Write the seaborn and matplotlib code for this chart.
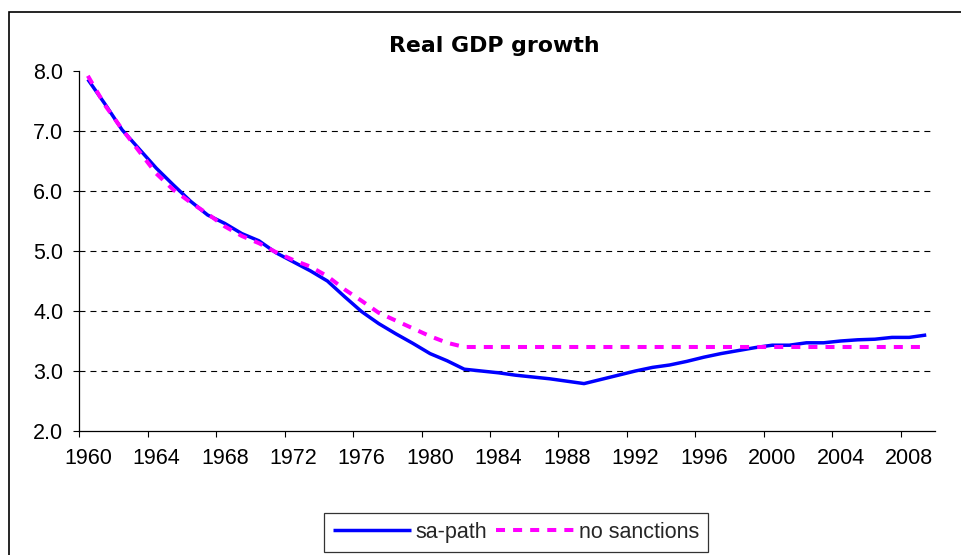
import matplotlib
matplotlib.use("Agg")
import matplotlib.pyplot as plt
from matplotlib.patches import Rectangle
from matplotlib.ticker import FixedLocator, FuncFormatter, NullFormatter
import seaborn as sns
import pandas as pd

# ---- data ----
years = list(range(1960, 2010))
sa_path = [7.86, 7.45, 7.02, 6.70, 6.38, 6.10, 5.83, 5.60, 5.46, 5.29,
           5.17, 4.97, 4.82, 4.67, 4.50, 4.24, 3.99, 3.79, 3.62, 3.46,
           3.29, 3.17, 3.03, 3.00, 2.97, 2.93, 2.90, 2.87, 2.83, 2.79,
           2.86, 2.93, 3.00, 3.06, 3.10, 3.16, 3.23, 3.29, 3.34, 3.39,
           3.43, 3.43, 3.47, 3.47, 3.50, 3.52, 3.53, 3.56, 3.56, 3.60]
no_sanctions = [7.92, 7.43, 7.03, 6.66, 6.29, 6.02, 5.81, 5.62, 5.41, 5.25,
                5.13, 4.98, 4.85, 4.74, 4.58, 4.36, 4.17, 3.97, 3.84, 3.71,
                3.58, 3.47, 3.40, 3.40, 3.40, 3.40, 3.40, 3.40, 3.40, 3.40,
                3.40, 3.40, 3.40, 3.40, 3.40, 3.40, 3.40, 3.40, 3.40, 3.40,
                3.40, 3.40, 3.40, 3.40, 3.40, 3.40, 3.40, 3.40, 3.40, 3.40]
series_names = ["sa-path", "no sanctions"]
tick_years = [1960, 1964, 1968, 1972, 1976, 1980, 1984, 1988, 1992, 1996, 2000, 2004, 2008]
y_ticks = [2.0, 3.0, 4.0, 5.0, 6.0, 7.0, 8.0]
title = "Real GDP growth"

df = pd.DataFrame({
    "year": years * 2,
    "value": sa_path + no_sanctions,
    "series": [series_names[0]] * len(years) + [series_names[1]] * len(years),
})

sns.set_theme(style="white")
plt.rcParams["font.family"] = ["Liberation Sans", "DejaVu Sans"]
plt.rcParams["lines.scale_dashes"] = False

fig = plt.figure(figsize=(9.62, 5.55), dpi=100)
fig.patch.set_facecolor("white")
ax = fig.add_axes([79.3 / 962, 1 - 431 / 555, (934.8 - 79.3) / 962, 360 / 555])
ax.set_facecolor("white")

sns.lineplot(data=df[df.series == series_names[0]], x="year", y="value",
             color="#0000FF", linewidth=2.5, ax=ax, label=series_names[0],
             solid_capstyle="butt")
sns.lineplot(data=df[df.series == series_names[1]], x="year", y="value",
             color="#FF00FF", linewidth=2.9, ax=ax, label=series_names[1],
             dashes=False)
ax.lines[1].set_dashes((6.5, 5.8))
ax.lines[1].set_dash_capstyle("butt")

ax.set_xlim(1959.5, 2009.5)
ax.set_ylim(2.0, 8.0)
ax.set_xlabel("")
ax.set_ylabel("")

FS = 15.5

# y axis
ax.yaxis.set_major_locator(FixedLocator(y_ticks))
ax.yaxis.set_major_formatter(FuncFormatter(lambda v, p: f"{v:.1f}"))
ax.tick_params(axis="y", which="major", direction="out", length=4.5, width=0.8,
               color="black", labelsize=FS, pad=7, left=True, labelcolor="black")

# x axis: ticks between categories, labels centred
ax.xaxis.set_major_locator(FixedLocator([y - 0.5 for y in tick_years]))
ax.xaxis.set_major_formatter(NullFormatter())
ax.xaxis.set_minor_locator(FixedLocator(tick_years))
ax.xaxis.set_minor_formatter(FuncFormatter(lambda v, p: f"{int(round(v))}"))
ax.tick_params(axis="x", which="major", direction="out", length=4.5, width=0.8,
               color="black", bottom=True)
ax.tick_params(axis="x", which="minor", length=0, labelsize=FS, pad=12.5,
               labelcolor="black", bottom=True)

# spines
for s in ["top", "right"]:
    ax.spines[s].set_visible(False)
for s in ["left", "bottom"]:
    ax.spines[s].set_color("black")
    ax.spines[s].set_linewidth(0.9)

# gridlines (dashed, only interior levels)
ax.grid(False)
for yv in y_ticks[1:-1]:
    ax.axhline(yv, color="black", linewidth=0.8, dashes=(4.3, 3.6), zorder=0.5)

# legend
ax.get_legend().remove()
handles = ax.lines[:2]
leg = fig.legend(handles, series_names, loc="center", ncol=2,
                 bbox_to_anchor=(516 / 962, 1 - 532.5 / 555),
                 frameon=True, fancybox=False, edgecolor="black",
                 fontsize=FS, handlelength=3.6, handletextpad=0.23,
                 columnspacing=0.42, borderpad=0.4, borderaxespad=0)
leg.get_frame().set_linewidth(0.9)

# title
fig.text(494 / 962, 1 - 46 / 555, title, ha="center", va="center",
         fontsize=15.8, fontweight="bold", color="black", family="DejaVu Sans")

# chart border
fig.add_artist(Rectangle((9.3 / 962, -0.1), 1.2, (555 - 12) / 555 + 0.1,
                         transform=fig.transFigure, fill=False,
                         edgecolor="black", linewidth=1.2))

fig.savefig("out.png", dpi=100, facecolor="white")
